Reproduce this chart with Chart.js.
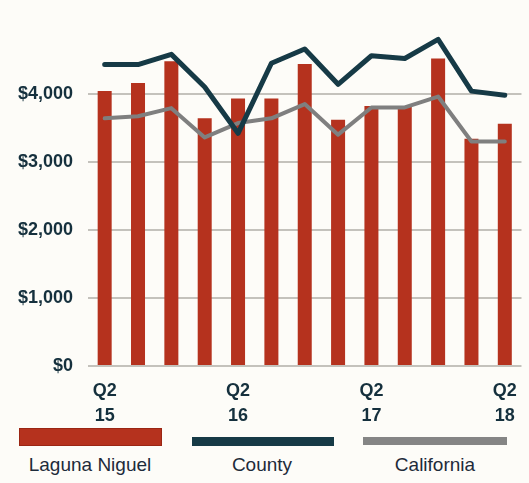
<!DOCTYPE html>
<html>
<head>
<meta charset="utf-8">
<script src="https://cdn.jsdelivr.net/npm/chart.js@4.4.1/dist/chart.umd.min.js"></script>
<style>
    html, body { margin: 0; padding: 0; background: #fdfcf8; }
    #wrap { position: relative; width: 529px; height: 483px; overflow: hidden; }
    #chart { position: absolute; left: 0; top: 0; }
    .key { position: absolute; }
    .lbl { position: absolute; top: 454px; width: 170px; text-align: center;
           font: 19px 'Liberation Sans', Arial, sans-serif; color: #1d2b3a; }
</style>
</head>
<body>
<div id="wrap">
    <canvas id="chart" width="529" height="422"></canvas>
    <div class="key" style="left:19px;top:428px;width:143px;height:18px;background:#b5321e;border:1px solid #9a2614;box-sizing:border-box;"></div>
    <div class="key" style="left:192px;top:437px;width:142px;height:9px;background:#163a46;"></div>
    <div class="key" style="left:363px;top:437px;width:144px;height:8px;background:#858585;"></div>
    <div class="lbl" style="left:5px;">Laguna Niguel</div>
    <div class="lbl" style="left:177px;">County</div>
    <div class="lbl" style="left:350px;">California</div>
</div>
<script>
// 季度标签
const quarters = ['Q2 15', 'Q3 15', 'Q4 15', 'Q1 16', 'Q2 16', 'Q3 16', 'Q4 16',
                  'Q1 17', 'Q2 17', 'Q3 17', 'Q4 17', 'Q1 18', 'Q2 18'];
// 只显示这些季度的刻度
const shownTicks = ['Q2 15', 'Q2 16', 'Q2 17', 'Q2 18'];

const lagunaNiguel = [4040, 4160, 4480, 3640, 3930, 3930, 4440, 3620, 3820, 3810, 4520, 3340, 3560];
const county = [4430, 4430, 4580, 4100, 3420, 4450, 4660, 4140, 4560, 4520, 4800, 4040, 3980];
const california = [3640, 3670, 3790, 3360, 3570, 3640, 3850, 3400, 3800, 3800, 3960, 3300, 3300];

const yTicks = [0, 1000, 2000, 3000, 4000];

const tickFont = { family: "'Liberation Sans Narrow', 'Liberation Sans', Arial, sans-serif", size: 18, weight: 'bold' };

new Chart(document.getElementById('chart').getContext('2d'), {
    type: 'bar',
    data: {
        labels: quarters,
        datasets: [
            {
                type: 'line',
                label: 'County',
                data: county,
                borderColor: '#163a46',
                borderWidth: 5,
                borderJoinStyle: 'round',
                borderCapStyle: 'round',
                pointRadius: 0,
                tension: 0,
                order: 0
            },
            {
                type: 'line',
                label: 'California',
                data: california,
                borderColor: '#7f7f7f',
                borderWidth: 4,
                borderJoinStyle: 'round',
                borderCapStyle: 'round',
                pointRadius: 0,
                tension: 0,
                order: 1
            },
            {
                label: 'Laguna Niguel',
                data: lagunaNiguel,
                backgroundColor: '#b5321e',
                barPercentage: 0.84,
                categoryPercentage: 0.5,
                order: 2
            }
        ]
    },
    options: {
        responsive: false,
        animation: false,
        layout: { padding: { left: 0, right: 5, top: 0, bottom: 0 } },
        plugins: {
            legend: { display: false },
            tooltip: { enabled: false }
        },
        scales: {
            x: {
                offset: true,
                grid: { display: false, drawTicks: false },
                border: { display: false },
                afterFit: function(scale) { scale.height = 56; },
                ticks: {
                    autoSkip: false,
                    maxRotation: 0,
                    padding: 12,
                    color: '#15303d',
                    font: Object.assign({ lineHeight: 1.4 }, tickFont),
                    callback: function(value, index) {
                        const q = quarters[index];
                        return shownTicks.includes(q) ? q.split(' ') : '';
                    }
                }
            },
            y: {
                min: 0,
                max: 5000,
                afterFit: function(scale) { scale.width = 88; },
                afterBuildTicks: function(scale) {
                    scale.ticks = yTicks.concat([5000]).map(v => ({ value: v }));
                },
                border: { display: false },
                grid: {
                    drawTicks: false,
                    lineWidth: 2,
                    color: function(ctx) {
                        return ctx.tick && ctx.tick.value === 5000 ? 'rgba(0,0,0,0)' : '#c4c2bc';
                    }
                },
                ticks: {
                    padding: 15,
                    color: '#15303d',
                    font: tickFont,
                    callback: function(value) {
                        return yTicks.includes(value) ? '$' + value.toLocaleString('en-US') : '';
                    }
                }
            }
        }
    }
});
</script>
</body>
</html>
